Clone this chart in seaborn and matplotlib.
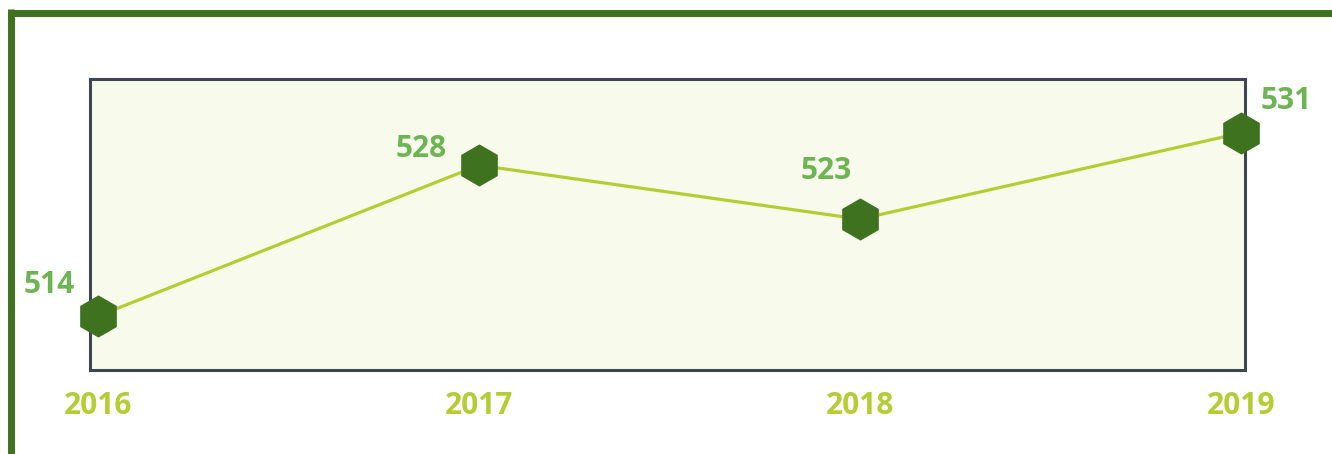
import numpy as np
import pandas as pd
import matplotlib
matplotlib.use("Agg")
import matplotlib.pyplot as plt
from matplotlib.lines import Line2D
import seaborn as sns

# -------- Datos --------
anios = ["2016", "2017", "2018", "2019"]
valores = [514, 528, 523, 531]

# desplazamiento de las etiquetas (px) respecto al punto
offs_x = [-49, -58, -34, 45]
offs_y = [31, 16, 48, 32]

# -------- Colores --------
VERDE_OSC = "#3e721f"
VERDE_LINEA = "#b4cd32"
VERDE_ETQ = "#6db552"
FONDO = "#f8fbec"
BORDE = "#3f4553"

sns.set_theme(style="white")
plt.rcParams["font.family"] = ["Open Sans", "DejaVu Sans"]

df = pd.DataFrame({"x": np.arange(len(anios)), "valor": valores})

fig = plt.figure(figsize=(13.32, 4.54), dpi=100)
ax = fig.add_axes([90 / 1332, 1 - 370 / 454, 1155 / 1332, 291 / 454])
ax.set_facecolor(FONDO)

sns.lineplot(data=df, x="x", y="valor", ax=ax, color=VERDE_LINEA, linewidth=2.3,
             marker="h", markersize=29.5, markerfacecolor=VERDE_OSC,
             markeredgecolor=VERDE_OSC, clip_on=False, zorder=3)

px = 72 / fig.dpi
for i, v in enumerate(valores):
    ax.annotate(str(v), (i, v), xytext=(offs_x[i] * px, offs_y[i] * px),
                textcoords="offset points", ha="center", va="center",
                fontsize=21.5, fontweight="bold", color=VERDE_ETQ,
                annotation_clip=False)

# escalas: 514 -> y=316px, 531 -> y=133px dentro del eje
y_por_px = (531 - 514) / (316 - 133)
ax.set_ylim(514 - (370 - 316) * y_por_px, 531 + (133 - 79) * y_por_px)
x_por_px = 3 / (1241 - 98)
ax.set_xlim(-(98 - 90) * x_por_px, 3 + (1245 - 1241) * x_por_px)

ax.set_xticks(range(len(anios)))
ax.set_xticklabels(anios, fontsize=21.5, fontweight="bold", color=VERDE_LINEA)
ax.tick_params(axis="x", length=0, pad=15)
ax.set_yticks([])
ax.set_xlabel("")
ax.set_ylabel("")
for s in ax.spines.values():
    s.set_visible(True)
    s.set_color(BORDE)
    s.set_linewidth(2.2)

# marco verde exterior
fig.add_artist(Line2D([8 / 1332, 1], [1 - 12.5 / 454] * 2, color=VERDE_OSC,
                      linewidth=5, solid_capstyle="butt", transform=fig.transFigure))
fig.add_artist(Line2D([11 / 1332] * 2, [0, 1 - 9 / 454], color=VERDE_OSC,
                      linewidth=5, solid_capstyle="butt", transform=fig.transFigure))

fig.savefig("out.png", dpi=100)
